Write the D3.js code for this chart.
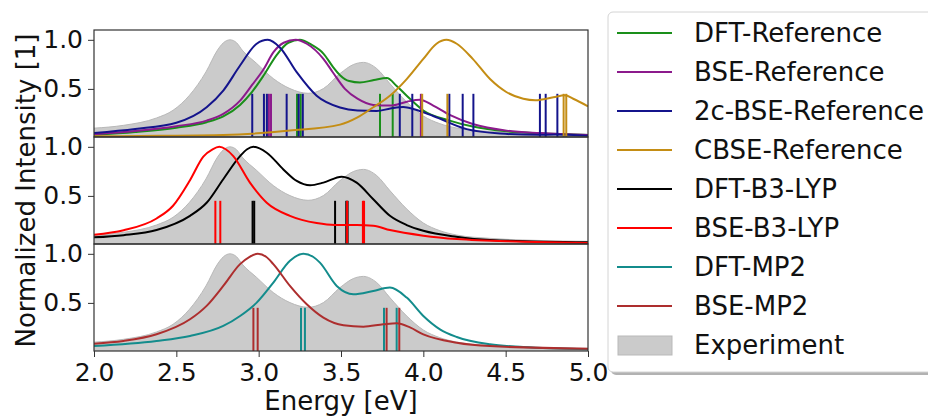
<!DOCTYPE html>
<html>
<head>
<meta charset="utf-8">
<script src="https://cdn.jsdelivr.net/npm/d3@7"></script>
<style>
  body { margin: 0; background: #fff; }
  text { font-family: "DejaVu Sans", sans-serif; fill: #111; }
</style>
</head>
<body>
<div id="chart"></div>
<script>
// ---- data (energy in eV, normalized intensity) ----
const energyTicks = [2.0, 2.5, 3.0, 3.5, 4.0, 4.5, 5.0];
const intensityTicks = [0.5, 1.0];
const stickHeight = 0.45;

const experiment = [[2.0,0.10],[2.18,0.129],[2.38,0.204],[2.48,0.282],[2.58,0.435],[2.68,0.673],[2.75,0.895],[2.786,0.97],[2.826,1.0],[2.866,0.97],[2.90,0.895],[2.988,0.759],[3.089,0.605],[3.19,0.503],[3.30,0.455],[3.393,0.503],[3.494,0.656],[3.575,0.748],[3.636,0.77],[3.717,0.707],[3.797,0.554],[3.899,0.367],[4.0,0.224],[4.10,0.146],[4.20,0.102],[4.40,0.068],[4.60,0.051],[5.0,0.037]];

const dftRefCurve = [[2.0,0.03],[2.25,0.06],[2.5,0.105],[2.684,0.16],[2.785,0.22],[2.887,0.337],[2.96,0.47],[3.03,0.636],[3.11,0.847],[3.18,0.97],[3.25,1.0],[3.32,0.95],[3.393,0.86],[3.453,0.72],[3.494,0.64],[3.55,0.58],[3.615,0.565],[3.70,0.59],[3.778,0.61],[3.838,0.53],[3.899,0.43],[4.0,0.28],[4.16,0.177],[4.30,0.116],[4.506,0.068],[4.71,0.048],[5.0,0.03]];
const bseRefCurve = [[2.0,0.037],[2.25,0.07],[2.5,0.12],[2.684,0.177],[2.785,0.245],[2.887,0.38],[2.96,0.54],[3.03,0.70],[3.09,0.874],[3.152,0.97],[3.225,1.0],[3.292,0.96],[3.393,0.806],[3.45,0.67],[3.524,0.50],[3.60,0.40],[3.696,0.337],[3.80,0.33],[3.90,0.37],[3.98,0.39],[4.06,0.33],[4.16,0.235],[4.30,0.143],[4.506,0.075],[4.71,0.05],[5.0,0.03]];
const bse2cRefCurve = [[2.0,0.051],[2.25,0.092],[2.5,0.155],[2.684,0.313],[2.785,0.483],[2.887,0.738],[2.988,0.96],[3.055,1.0],[3.13,0.92],[3.231,0.67],[3.352,0.43],[3.494,0.31],[3.60,0.28],[3.717,0.275],[3.80,0.30],[3.878,0.316],[3.95,0.29],[4.06,0.224],[4.263,0.09],[4.466,0.045],[4.70,0.032],[4.80,0.036],[5.0,0.022]];
const cbseRefCurve = [[2.0,0.017],[2.4,0.022],[2.785,0.03],[3.19,0.075],[3.494,0.136],[3.60,0.21],[3.696,0.313],[3.797,0.43],[3.899,0.60],[4.0,0.806],[4.08,0.96],[4.14,1.0],[4.203,0.96],[4.30,0.806],[4.405,0.60],[4.506,0.466],[4.607,0.40],[4.68,0.385],[4.79,0.415],[4.86,0.435],[4.91,0.40],[5.0,0.323]];

const dftB3lypCurve = [[2.0,0.078],[2.18,0.10],[2.38,0.152],[2.583,0.297],[2.684,0.43],[2.785,0.67],[2.887,0.905],[2.93,0.975],[2.968,1.0],[3.049,0.94],[3.15,0.77],[3.231,0.652],[3.312,0.608],[3.393,0.635],[3.504,0.696],[3.595,0.635],[3.696,0.466],[3.797,0.297],[3.899,0.203],[4.0,0.145],[4.2,0.084],[4.405,0.05],[5.0,0.027]];
const bseB3lypCurve = [[2.0,0.105],[2.18,0.15],[2.38,0.27],[2.48,0.40],[2.583,0.66],[2.664,0.90],[2.72,0.975],[2.761,1.0],[2.80,0.975],[2.846,0.905],[2.947,0.635],[3.049,0.43],[3.19,0.297],[3.352,0.223],[3.464,0.203],[3.595,0.203],[3.696,0.196],[3.797,0.152],[4.0,0.095],[4.203,0.06],[4.607,0.034],[5.0,0.02]];

const dftMp2Curve = [[2.0,0.061],[2.38,0.112],[2.583,0.163],[2.785,0.265],[2.887,0.367],[2.988,0.503],[3.089,0.707],[3.19,0.93],[3.271,1.0],[3.33,0.97],[3.372,0.91],[3.474,0.673],[3.575,0.588],[3.696,0.622],[3.797,0.656],[3.899,0.554],[4.0,0.367],[4.101,0.231],[4.203,0.153],[4.405,0.078],[4.607,0.051],[5.0,0.027]];
const bseMp2Curve = [[2.0,0.085],[2.178,0.112],[2.38,0.18],[2.583,0.333],[2.684,0.47],[2.785,0.673],[2.887,0.895],[2.945,0.97],[2.994,1.0],[3.045,0.97],[3.089,0.895],[3.19,0.673],[3.292,0.486],[3.393,0.35],[3.515,0.272],[3.636,0.258],[3.757,0.282],[3.838,0.293],[3.919,0.25],[4.0,0.18],[4.203,0.095],[4.405,0.06],[5.0,0.034]];

// stick positions (eV)
const dftRefSticks = [3.233, 3.255, 3.737, 3.814];
const bseRefSticks = [3.062, 3.075, 3.985];
const bse2cRefSticks = [2.961, 3.032, 3.050, 3.170, 3.243, 3.268, 3.857, 3.933, 4.158, 4.239, 4.304, 4.708, 4.743, 4.814];
const cbseRefSticks = [3.993, 4.146, 4.852, 4.868];
const dftB3lypSticks = [2.963, 2.973, 3.464, 3.532, 3.540];
const bseB3lypSticks = [2.737, 2.767, 3.537, 3.633, 3.640];
const dftMp2Sticks = [3.257, 3.281, 3.761, 3.838];
const bseMp2Sticks = [2.968, 2.994, 3.777, 3.854];

const seriesNames = ["DFT-Reference", "BSE-Reference", "2c-BSE-Reference", "CBSE-Reference",
                     "DFT-B3-LYP", "BSE-B3-LYP", "DFT-MP2", "BSE-MP2", "Experiment"];
const seriesColors = ["#1a8f1a", "#8c1a8c", "#14148c", "#c48d14",
                      "#000000", "#ff0000", "#138c8c", "#ad2e2e", "#cbcbcb"];

// ---- layout ----
const width = 928, height = 417;
const plotLeft = 94, plotRight = 588;
const panelTops = [30, 137, 244];
const panelH = 107;
const fontTick = 25, fontLabel = 26, fontLegend = 26;

const panels = [
    { series: [[dftRefCurve, dftRefSticks, 0], [bseRefCurve, bseRefSticks, 1],
               [bse2cRefCurve, bse2cRefSticks, 2], [cbseRefCurve, cbseRefSticks, 3]] },
    { series: [[dftB3lypCurve, dftB3lypSticks, 4], [bseB3lypCurve, bseB3lypSticks, 5]] },
    { series: [[dftMp2Curve, dftMp2Sticks, 6], [bseMp2Curve, bseMp2Sticks, 7]] }
];

const svg = d3.select("#chart").append("svg")
    .attr("width", width)
    .attr("height", height);

const x = d3.scaleLinear().domain([2, 5]).range([plotLeft, plotRight]);

panels.forEach((panel, i) => {
    const top = panelTops[i];
    const y = d3.scaleLinear().domain([0.01, 1.1]).range([top + panelH, top]);

    const clipId = "clip" + i;
    svg.append("clipPath").attr("id", clipId)
        .append("rect")
        .attr("x", plotLeft).attr("y", top)
        .attr("width", plotRight - plotLeft).attr("height", panelH);

    const g = svg.append("g").attr("clip-path", `url(#${clipId})`);

    // experiment shaded area
    const area = d3.area()
        .x(d => x(d[0]))
        .y0(y(0))
        .y1(d => y(d[1]))
        .curve(d3.curveMonotoneX);
    g.append("path")
        .datum(experiment)
        .attr("d", area)
        .attr("fill", seriesColors[8])
        .attr("stroke", "#b9b9b9")
        .attr("stroke-width", 1);

    const line = d3.line()
        .x(d => x(d[0]))
        .y(d => y(d[1]))
        .curve(d3.curveMonotoneX);

    panel.series.forEach(([curve, sticks, k]) => {
        g.append("path")
            .datum(curve)
            .attr("d", line)
            .attr("fill", "none")
            .attr("stroke", seriesColors[k])
            .attr("stroke-width", 2);

        g.selectAll(null)
            .data(sticks)
            .enter()
            .append("line")
            .attr("x1", d => x(d)).attr("x2", d => x(d))
            .attr("y1", y(0)).attr("y2", y(stickHeight))
            .attr("stroke", seriesColors[k])
            .attr("stroke-width", 2);
    });

    // frame
    svg.append("rect")
        .attr("x", plotLeft).attr("y", top)
        .attr("width", plotRight - plotLeft).attr("height", panelH)
        .attr("fill", "none")
        .attr("stroke", "#333")
        .attr("stroke-width", 1.2);

    // y axis
    const yAxis = svg.append("g")
        .attr("transform", `translate(${plotLeft},0)`)
        .call(d3.axisLeft(y).tickValues(intensityTicks).tickFormat(d3.format(".1f")).tickSize(6).tickPadding(5));
    yAxis.select(".domain").remove();
    yAxis.selectAll("line").attr("stroke", "#333");
    yAxis.selectAll("text").style("font-size", fontTick + "px").attr("fill", "#111");

    if (i === panels.length - 1) {
        const xAxis = svg.append("g")
            .attr("transform", `translate(0,${top + panelH})`)
            .call(d3.axisBottom(x).tickValues(energyTicks).tickFormat(d3.format(".1f")).tickSize(6).tickPadding(6));
        xAxis.select(".domain").remove();
        xAxis.selectAll("line").attr("stroke", "#333");
        xAxis.selectAll("text").style("font-size", fontTick + "px").attr("fill", "#111");
    }
});

// axis labels
svg.append("text")
    .attr("x", (plotLeft + plotRight) / 2)
    .attr("y", 410)
    .attr("text-anchor", "middle")
    .style("font-size", fontLabel + "px")
    .text("Energy [eV]");

svg.append("text")
    .attr("transform", `translate(35,${(panelTops[0] + panelTops[2] + panelH) / 2}) rotate(-90)`)
    .attr("text-anchor", "middle")
    .style("font-size", fontLabel + "px")
    .text("Normalized Intensity [1]");

// legend
const legend = svg.append("g");
legend.append("rect")
    .attr("x", 611).attr("y", 15)
    .attr("width", 340).attr("height", 360)
    .attr("rx", 5)
    .attr("fill", "#000").attr("opacity", 0.3);
legend.append("rect")
    .attr("x", 608).attr("y", 12)
    .attr("width", 340).attr("height", 360)
    .attr("rx", 5)
    .attr("fill", "#fff")
    .attr("stroke", "#d4d4d4")
    .attr("stroke-width", 1);

seriesNames.forEach((name, k) => {
    const cy = 33 + k * 39;
    if (k < 8) {
        legend.append("line")
            .attr("x1", 617).attr("x2", 672)
            .attr("y1", cy).attr("y2", cy)
            .attr("stroke", seriesColors[k])
            .attr("stroke-width", 2);
    } else {
        legend.append("rect")
            .attr("x", 618).attr("y", cy - 9)
            .attr("width", 54).attr("height", 19)
            .attr("fill", seriesColors[k])
            .attr("stroke", "#b9b9b9");
    }
    legend.append("text")
        .attr("x", 694)
        .attr("y", cy + 9)
        .style("font-size", fontLegend + "px")
        .text(name);
});
</script>
</body>
</html>
